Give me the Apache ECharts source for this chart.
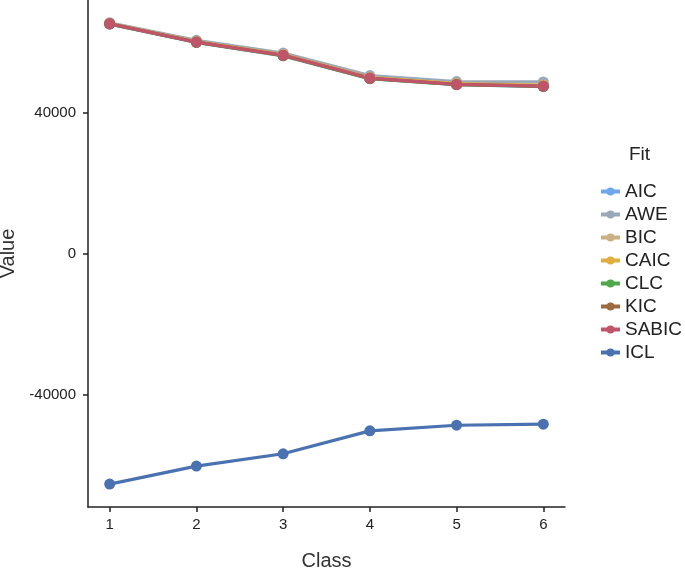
<!DOCTYPE html>
<html><head><meta charset="utf-8">
<script src="https://cdn.jsdelivr.net/npm/echarts@6/dist/echarts.min.js"></script>
<style>html,body{margin:0;padding:0;background:#fff}#c{width:685px;height:568px}</style>
</head><body><div id="c"></div>
<script>
const classes = [1, 2, 3, 4, 5, 6];
const seriesNames = ['AIC', 'AWE', 'BIC', 'CAIC', 'CLC', 'KIC', 'SABIC', 'ICL'];
const AIC   = [65200, 60000, 56200, 49700, 48000, 47500];
const AWE   = [65600, 60600, 57000, 50600, 48900, 48800];
const BIC   = [65350, 60200, 56500, 50000, 48250, 47800];
const CAIC  = [65380, 60230, 56550, 50050, 48300, 47850];
const CLC   = [65250, 60050, 56250, 49750, 48050, 47550];
const KIC   = [65280, 60080, 56300, 49800, 48080, 47580];
const SABIC = [65300, 60100, 56400, 49900, 48100, 47600];
const ICL   = [-65300, -60200, -56700, -50200, -48600, -48300];
const yTicks = [-40000, 0, 40000];
const colors = ['#6fa6ec', '#9aa9b9', '#c9b185', '#dfae3e', '#4fa84b', '#9a6a40', '#c05468', '#4a72b0'];
const values = [AIC, AWE, BIC, CAIC, CLC, KIC, SABIC, ICL];

const font = 'Liberation Sans, Arial, sans-serif';
const chart = echarts.init(document.getElementById('c'));
chart.setOption({
  animation: false,
  backgroundColor: '#fff',
  grid: {left: 88, right: 120, top: 0, bottom: 61, outerBoundsMode: 'none', containLabel: false},
  xAxis: {
    type: 'value', min: 0.75, max: 6.25,
    name: 'Class', nameLocation: 'middle', nameGap: 44,
    nameTextStyle: {fontFamily: font, fontSize: 20, color: '#333'},
    axisLine: {show: true, onZero: false, lineStyle: {color: '#222', width: 1.5}},
    axisTick: {show: true, length: 5, customValues: classes, lineStyle: {color: '#222', width: 1.5}},
    axisLabel: {customValues: classes, fontFamily: font, fontSize: 15, color: '#222', margin: 10},
    splitLine: {show: false}
  },
  yAxis: {
    type: 'value', min: -71800, max: 72050,
    name: 'Value', nameLocation: 'middle', nameGap: 60, nameRotate: 90,
    nameTextStyle: {fontFamily: font, fontSize: 20, color: '#333'},
    axisLine: {show: true, onZero: false, lineStyle: {color: '#222', width: 1.5}},
    axisTick: {show: true, length: 5, customValues: yTicks, lineStyle: {color: '#222', width: 1.5}},
    axisLabel: {customValues: yTicks, fontFamily: font, fontSize: 15, color: '#222', margin: 12,
                formatter: v => String(v)},
    splitLine: {show: false}
  },
  legend: {
    orient: 'vertical', left: 594, top: 177,
    itemWidth: 19, itemHeight: 10, itemGap: 4,
    textStyle: {fontFamily: font, fontSize: 19, color: '#222'},
    data: seriesNames.map(n => ({name: n, itemStyle: {}, lineStyle: {width: 4}}))
  },
  graphic: [{type: 'text', left: 629, top: 145, style: {text: 'Fit', font: '19px ' + font, fill: '#222'}}],
  series: seriesNames.map((n, i) => ({
    name: n, type: 'line',
    data: classes.map((c, j) => [c, values[i][j]]),
    color: colors[i],
    symbol: 'circle', symbolSize: 11,
    lineStyle: {width: 3.2},
    itemStyle: {color: colors[i]}
  }))
});
</script></body></html>
